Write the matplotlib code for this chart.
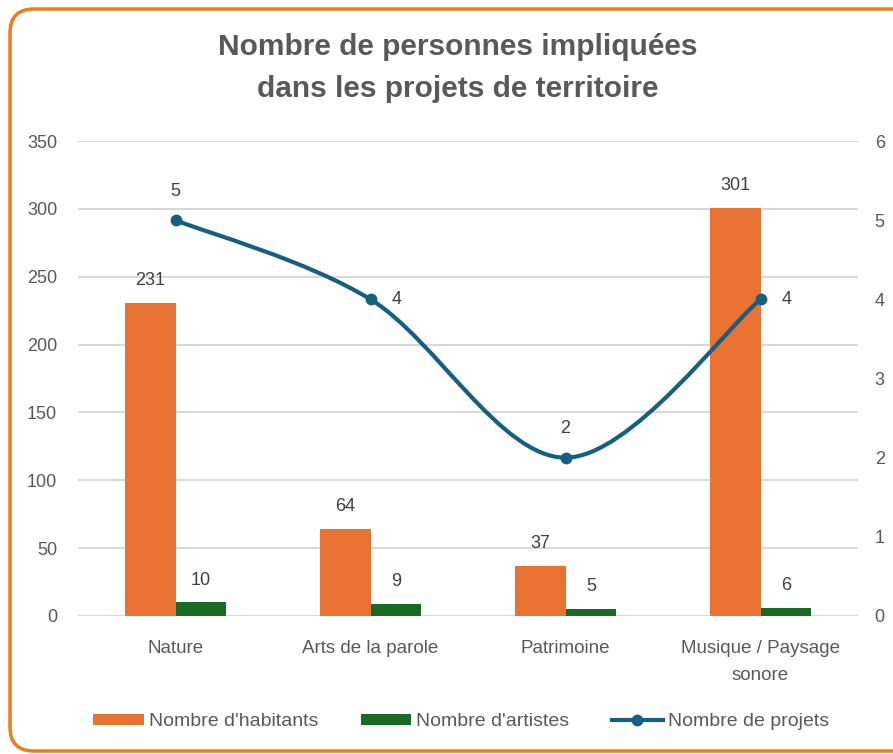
import matplotlib
matplotlib.use("Agg")
import matplotlib.pyplot as plt
import numpy as np
from matplotlib.patches import FancyBboxPatch, Patch
from matplotlib.path import Path
from matplotlib.patches import PathPatch
from matplotlib.lines import Line2D
from matplotlib.transforms import Affine2D
from matplotlib import font_manager

categories = ["Nature", "Arts de la parole", "Patrimoine", "Musique / Paysage\nsonore"]
habitants = [231, 64, 37, 301]
artistes = [10, 9, 5, 6]
projets = [5, 4, 2, 4]
left_ticks = [0, 50, 100, 150, 200, 250, 300, 350]
right_ticks = [0, 1, 2, 3, 4, 5, 6]

names = {f.name for f in font_manager.fontManager.ttflist}
narrow = "Liberation Sans Narrow" if "Liberation Sans Narrow" in names else "Liberation Sans"
plt.rcParams['font.family'] = ["Liberation Sans", "DejaVu Sans"]

C_OR = "#E97132"
C_GR = "#196B24"
C_BL = "#156082"
C_TXT = "#595959"
C_LBL = "#404040"
C_GRID = "#D9D9D9"

W, H = 893, 754
fig = plt.figure(figsize=(W / 100, H / 100), dpi=100)
fig.patch.set_facecolor("white")

# orange rounded frame (pixel coordinates, y up)
pix = Affine2D().scale(1 / W, 1 / H) + fig.transFigure
frame = FancyBboxPatch((10, 3), 930, 742,
                       boxstyle="round,pad=0,rounding_size=24",
                       transform=pix, facecolor="none",
                       edgecolor="#ED7D1A", linewidth=2.5, zorder=-1, clip_on=False)
fig.patches.append(frame)

ax = fig.add_axes([78 / W, 1 - 616 / H, 780 / W, 475 / H])
ax.set_facecolor("none")
x = np.arange(len(categories))
bw = 0.26
b1 = ax.bar(x - bw / 2, habitants, bw, color=C_OR, zorder=3)
b2 = ax.bar(x + bw / 2, artistes, bw, color=C_GR, zorder=3)
ax.set_xlim(-0.5, len(categories) - 0.5)
ax.set_ylim(0, 350)
ax.set_yticks(left_ticks)
ax.grid(axis="y", color=C_GRID, linewidth=1.5, zorder=0)
for s in ax.spines.values():
    s.set_visible(False)
ax.axhline(0, color=C_GRID, linewidth=1.5, zorder=2)
ax.tick_params(axis="both", length=0, labelsize=13, colors=C_TXT)
ax.tick_params(axis="y", pad=15)
ax.tick_params(axis="x", pad=17.5)
ax.set_xticks(x)
ax.set_xticklabels(categories, fontfamily=[narrow, "DejaVu Sans"], fontsize=13.5,
                   linespacing=1.75)

for bars, vals in ((b1, habitants), (b2, artistes)):
    for r, v in zip(bars, vals):
        ax.annotate(str(v), (r.get_x() + r.get_width() / 2, v), xytext=(0, 16),
                    textcoords="offset points", ha="center", va="center",
                    fontsize=13, color=C_LBL, zorder=5)

ax2 = ax.twinx()
ax2.set_ylim(0, 6)
ax2.set_yticks(right_ticks)
for s in ax2.spines.values():
    s.set_visible(False)
ax2.tick_params(axis="y", length=0, labelsize=13, colors=C_TXT, pad=12)

# smoothed line (Bezier, Excel-like)
pts = np.column_stack([x, projets]).astype(float)
n = len(pts)
verts = [tuple(pts[0])]
codes = [Path.MOVETO]
for i in range(n - 1):
    p0 = pts[max(i - 1, 0)]
    p1 = pts[i]
    p2 = pts[i + 1]
    p3 = pts[min(i + 2, n - 1)]
    c1 = p1 + (p2 - p0) / 6
    c2 = p2 - (p3 - p1) / 6
    verts += [tuple(c1), tuple(c2), tuple(p2)]
    codes += [Path.CURVE4] * 3
ax2.add_patch(PathPatch(Path(verts, codes), facecolor="none", edgecolor=C_BL,
                        linewidth=3, zorder=4, capstyle="round"))
ax2.plot(x, projets, "o", color=C_BL, markersize=7.5, zorder=5)

offs = [(0, 21), (19, 0), (0, 21), (19, 0)]
for xi, v, o in zip(x, projets, offs):
    ax2.annotate(str(v), (xi, v), xytext=o, textcoords="offset points",
                 ha="center", va="center", fontsize=13, color=C_LBL, zorder=6)

fig.text(458 / W, 1 - 47 / H, "Nombre de personnes impliquées",
         ha="center", va="center", fontsize=21.5, fontweight="bold", color=C_TXT,
         fontfamily=[narrow, "DejaVu Sans"])
fig.text(458 / W, 1 - 89 / H, "dans les projets de territoire",
         ha="center", va="center", fontsize=21.5, fontweight="bold", color=C_TXT,
         fontfamily=[narrow, "DejaVu Sans"])

handles = [Patch(facecolor=C_OR), Patch(facecolor=C_GR),
           Line2D([], [], color=C_BL, linewidth=3, marker="o", markersize=7.5)]
labels = ["Nombre d'habitants", "Nombre d'artistes", "Nombre de projets"]
leg = fig.legend(handles, labels, loc="center", bbox_to_anchor=(461 / W, 1 - 722 / H),
                 ncol=3, frameon=False, handlelength=2.6, handleheight=0.5,
                 handletextpad=0.25, columnspacing=2.2,
                 prop={"family": [narrow, "DejaVu Sans"], "size": 14})
for t in leg.get_texts():
    t.set_color(C_TXT)

fig.savefig("out.png", dpi=100)
